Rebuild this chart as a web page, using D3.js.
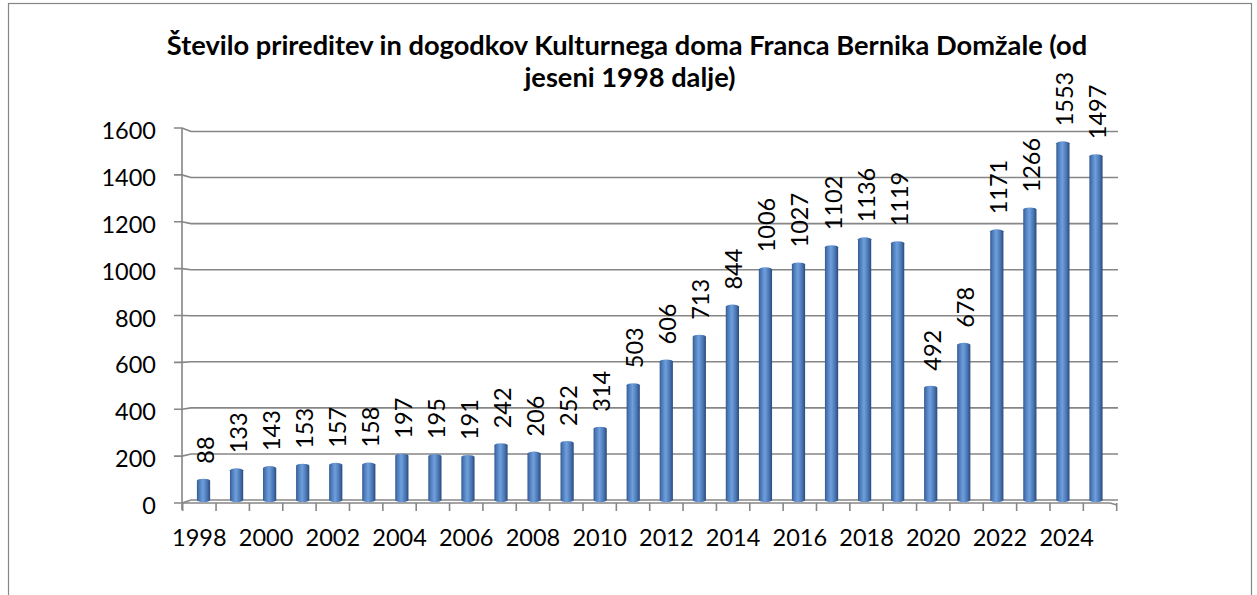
<!DOCTYPE html>
<html>
<head>
<meta charset="utf-8">
<script src="https://cdn.jsdelivr.net/npm/d3@7"></script>
<style>
    body { margin: 0; background: #fff; }
    svg { display: block; font-family: Lato, "Open Sans", sans-serif; }
</style>
</head>
<body>
<div id="chart"></div>
<script>
;(function () {

    var years = [1998, 1999, 2000, 2001, 2002, 2003, 2004, 2005, 2006, 2007,
                 2008, 2009, 2010, 2011, 2012, 2013, 2014, 2015, 2016, 2017,
                 2018, 2019, 2020, 2021, 2022, 2023, 2024, 2025];
    var events = [88, 133, 143, 153, 157, 158, 197, 195, 191, 242,
                  206, 252, 314, 503, 606, 713, 844, 1006, 1027, 1102,
                  1136, 1119, 492, 678, 1171, 1266, 1553, 1497];
    var yTicks = [0, 200, 400, 600, 800, 1000, 1200, 1400, 1600];
    var titleLines = ['Število prireditev in dogodkov Kulturnega doma Franca Bernika Domžale (od',
                      'jeseni 1998 dalje)'];

    var width = 1257
        , height = 595
        , gridColor = '#868686'
        , labelSize = 23.5;

    var svg = d3.select('#chart').append('svg')
        .attr('width', width)
        .attr('height', height);

    // outer frame (bottom edge is off the picture)
    svg.append('rect')
        .attr('x', 8.5).attr('y', 3.5)
        .attr('width', 1243).attr('height', 620)
        .attr('fill', '#fff')
        .attr('stroke', gridColor)
        .attr('stroke-width', 1.2);

    // front plane (axis) and back plane (walls, bars)
    var yFront = d3.scaleLinear().domain([0, 1600]).range([503, 128]);
    var yBack = d3.scaleLinear().domain([0, 1600]).range([500, 131.5]);

    var xFront = d3.scaleBand().domain(years).range([182.7, 1116.7]);
    var xBars = d3.scaleBand().domain(years).range([187, 1112.5]).paddingInner(0.6).paddingOuter(0.3);

    // gridlines with the little 3D step at the wall
    svg.append('g').selectAll('path')
        .data(yTicks)
        .enter().append('path')
        .attr('d', function (d) {
            return 'M174,' + yFront(d) + 'H182L191,' + yBack(d) + 'H1118';
        })
        .attr('fill', 'none')
        .attr('stroke', gridColor)
        .attr('stroke-width', 1.6);

    // floor front edge + vertical axis
    svg.append('path')
        .attr('d', 'M182,' + yFront(0) + 'H1110L1117,' + (yFront(0) + 2) +
                   'M182,' + yFront(1600) + 'V' + (yFront(0) + 7))
        .attr('fill', 'none')
        .attr('stroke', gridColor)
        .attr('stroke-width', 1.6);

    // x ticks between categories
    var tickXs = years.map(function (y) { return xFront(y); }).concat([xFront.range()[1]]);
    svg.append('g').selectAll('line')
        .data(tickXs)
        .enter().append('line')
        .attr('x1', function (d) { return d; })
        .attr('x2', function (d) { return d; })
        .attr('y1', yFront(0))
        .attr('y2', yFront(0) + 8)
        .attr('stroke', gridColor)
        .attr('stroke-width', 1.6);

    // y labels
    svg.append('g').selectAll('text')
        .data(yTicks)
        .enter().append('text')
        .attr('x', 156)
        .attr('y', function (d) { return yFront(d) + 2; })
        .attr('text-anchor', 'end')
        .attr('dominant-baseline', 'central')
        .attr('font-size', labelSize)
        .attr('fill', '#000')
        .text(function (d) { return d; });

    // x labels every second year
    svg.append('g').selectAll('text')
        .data(years.filter(function (y, i) { return i % 2 === 0; }))
        .enter().append('text')
        .attr('x', function (d) { return xFront(d) + xFront.bandwidth() / 2; })
        .attr('y', 546)
        .attr('text-anchor', 'middle')
        .attr('font-size', labelSize)
        .attr('fill', '#000')
        .text(function (d) { return d; });

    // cylinder shading
    var grad = svg.append('defs').append('linearGradient')
        .attr('id', 'cyl')
        .attr('x1', '0%').attr('x2', '100%')
        .attr('y1', '0%').attr('y2', '0%');
    [['0%', '#33588f'], ['15%', '#4a78b6'], ['45%', '#6f9fdc'], ['75%', '#4b79b6'], ['100%', '#2a4a7c']]
        .forEach(function (s) {
            grad.append('stop').attr('offset', s[0]).attr('stop-color', s[1]);
        });

    var bw = xBars.bandwidth();
    var bars = svg.append('g').selectAll('g')
        .data(years)
        .enter().append('g');

    bars.append('rect')
        .attr('x', function (d) { return xBars(d); })
        .attr('y', function (d, i) { return yBack(events[i]) - 1; })
        .attr('width', bw)
        .attr('height', function (d, i) { return yBack(0) - yBack(events[i]) + 3; })
        .attr('rx', bw / 2)
        .attr('ry', 2)
        .attr('fill', 'url(#cyl)');

    // rotated value labels
    bars.append('text')
        .attr('transform', function (d, i) {
            var cx = xBars(d) + bw / 2 + 1;
            var cy = yBack(events[i]) - 16;
            return 'translate(' + cx + ',' + cy + ') rotate(-90)';
        })
        .attr('text-anchor', 'start')
        .attr('dominant-baseline', 'central')
        .attr('font-size', labelSize)
        .attr('fill', '#000')
        .text(function (d, i) { return events[i]; });

    // title, fitted to the reference width
    var title = svg.append('g')
        .attr('font-weight', 'bold')
        .attr('text-anchor', 'middle')
        .attr('fill', '#000');
    var t1 = title.append('text')
        .attr('x', 627).attr('y', 55)
        .attr('font-size', 24)
        .text(titleLines[0]);
    var fs = 24 * 921 / t1.node().getComputedTextLength();
    t1.attr('font-size', fs);
    title.append('text')
        .attr('x', 630).attr('y', 87)
        .attr('font-size', fs)
        .text(titleLines[1]);

}());
</script>
</body>
</html>
